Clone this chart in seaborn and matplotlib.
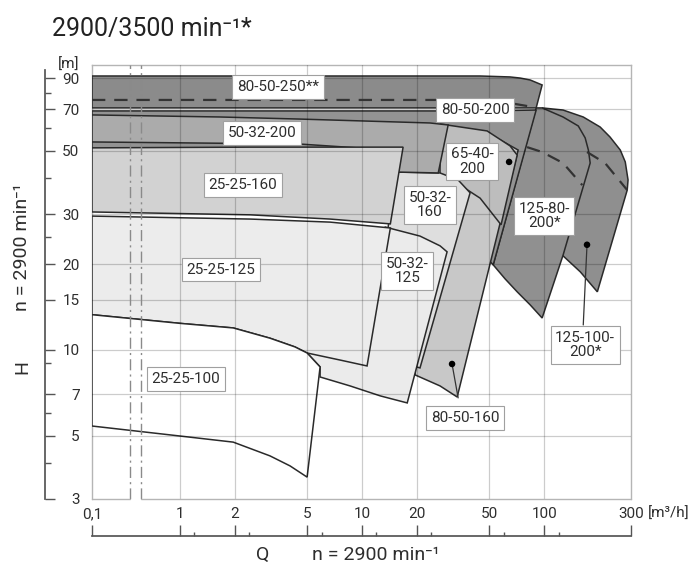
import numpy as np
import matplotlib
matplotlib.use("Agg")
import matplotlib.pyplot as plt
import seaborn as sns
from matplotlib.ticker import NullLocator

# ---------------- data (Q in m3/h, H in m) ----------------
q_ticks = [0.1, 1, 2, 5, 10, 20, 50, 100, 300]
q_tick_labels = ["0,1", "1", "2", "5", "10", "20", "50", "100", "300"]
h_ticks = [3, 5, 7, 10, 15, 20, 30, 50, 70, 90]
h_tick_labels = ["3", "5", "7", "10", "15", "20", "30", "50", "70", "90"]
q_grid = [1, 2, 5, 10, 20, 50, 100]
h_grid = [5, 7, 10, 15, 20, 30, 50, 70, 90]
q_break = [0.27, 0.36]
q_minor_3500 = [1.2, 2.4, 6, 12, 24, 60, 120]
h_minor = [4, 6, 9, 25, 40, 60, 80]

# pump envelopes (outline of the operating range), drawn back to front
Q_125_100_200 = [97.5, 127, 164, 203, 230, 262, 279, 289, 286, 196, 158, 127, 108, 108]
H_125_100_200 = [70.7, 69.5, 65.7, 60.6, 55.9, 50.3, 45.7, 39.5, 36.4, 16.0, 18.8, 21.4, 26.4, 64.1]

Q_125_80_200 = [90.4, 97.5, 127, 154, 168, 175, 179, 127, 97.5, 83.8, 71.1, 61.1, 52.5]
H_125_80_200 = [70.7, 70.7, 65.7, 61.1, 55.5, 50.3, 45.3, 21.5, 12.95, 14.4, 16.0, 17.75, 19.9]

Q_80_50_200 = [0.1, 44.5, 90.4, 52.5, 39.2, 26.8, 4.56, 0.1]
H_80_50_200 = [69.0, 69.0, 69.5, 19.9, 24.3, 33.6, 39.5, 42.8]

Q_80_50_160 = [23.6, 57.3, 72.0, 33.3, 26.8, 19.6, 18.4]
H_80_50_160 = [50.3, 54.6, 50.3, 6.84, 7.48, 8.17, 15.0]

Q_65_40_200 = [26.8, 48.6, 65.0, 71.1, 58.0, 44.5, 34.5, 26.8]
H_65_40_200 = [62.1, 58.7, 52.0, 48.3, 27.5, 34.1, 37.9, 40.1]

Q_50_32_160 = [15.2, 26.8, 33.7, 39.2, 20.8, 16.2, 13.4, 13.4]
H_50_32_160 = [42.1, 41.8, 39.5, 35.6, 8.65, 9.07, 9.53, 22.4]

Q_50_32_125 = [13.4, 20.8, 26.8, 29.3, 17.7, 12.6, 8.59, 5.88, 5.88, 4.99, 6.67]
H_50_32_125 = [27.0, 25.1, 23.2, 22.1, 6.52, 6.9, 7.48, 8.04, 8.72, 9.76, 15.0]

Q_80_50_250 = [0.1, 44.5, 65.0, 73.8, 83.8, 97.5, 90.4, 4.56, 0.1]
H_80_50_250 = [91.5, 91.5, 90.8, 90.0, 88.6, 85.1, 70.7, 70.7, 70.7]

Q_50_32_200 = [0.1, 1.66, 4.56, 23.6, 29.7, 26.2, 15.8, 14.3, 4.56, 0.1]
H_50_32_200 = [66.8, 65.7, 64.6, 62.6, 61.6, 41.8, 42.1, 50.3, 52.8, 53.7]

Q_25_25_160 = [0.1, 2.43, 16.8, 14.3, 6.67, 2.43, 0.1]
H_25_25_160 = [51.2, 51.5, 51.5, 27.7, 28.8, 29.8, 30.5]

Q_25_25_125 = [0.1, 2.43, 6.67, 14.3, 10.65, 7.57, 4.99, 4.28, 3.12, 1.96, 1.0, 0.1]
H_25_25_125 = [29.5, 28.8, 28.1, 26.8, 8.79, 9.22, 9.76, 10.25, 11.0, 11.95, 12.4, 13.3]

Q_25_25_100 = [0.1, 1.0, 1.96, 3.12, 4.28, 4.99, 5.88, 4.99, 4.02, 3.12, 1.96, 1.0, 0.1]
H_25_25_100 = [13.3, 12.4, 11.95, 11.0, 10.25, 9.76, 8.72, 3.58, 3.92, 4.25, 4.75, 4.99, 5.41]

# dashed (3500 1/min) curves
Q_dash_250 = [0.1, 44.5, 69.3, 87.0]
H_dash_250 = [75.4, 75.4, 73.0, 71.2]
Q_dash_125_80 = [80.6, 97.5, 127, 162]
H_dash_125_80 = [51.5, 49.5, 45.3, 37.9]
Q_dash_125_100 = [172, 216, 286]
H_dash_125_100 = [49.5, 45.3, 36.4]

# labels
label_text = ["80-50-250**", "50-32-200", "25-25-160", "25-25-125", "25-25-100",
              "80-50-200", "65-40-\n200", "50-32-\n160", "50-32-\n125",
              "125-80-\n200*", "125-100-\n200*", "80-50-160"]
label_q = [3.45, 2.82, 2.22, 1.68, 1.08, 41.8, 40.2, 23.6, 17.7, 100, 168, 36.8]
label_h = [83.7, 57.7, 37.9, 19.1, 7.91, 69.5, 45.9, 32.3, 18.9, 29.5, 10.4, 5.77]

dot_q = [31.2, 64.2, 172]
dot_h = [8.93, 45.7, 23.4]
pointer_80_50_160_q = [31.2, 33.7]
pointer_80_50_160_h = [8.93, 6.79]
pointer_125_100_q = [172, 164]
pointer_125_100_h = [23.4, 12.24]

# ---------------- style ----------------
sns.set_theme(style="white")
plt.rcParams["font.family"] = ["Roboto", "DejaVu Sans"]
TXT = "#2e2e2e"

envelopes = [
    (Q_125_100_200, H_125_100_200, "#8f8f8f"),
    (Q_125_80_200, H_125_80_200, "#909090"),
    (Q_80_50_200, H_80_50_200, "#939393"),
    (Q_80_50_160, H_80_50_160, "#c8c8c8"),
    (Q_65_40_200, H_65_40_200, "#bdbdbd"),
    (Q_50_32_160, H_50_32_160, "#dedede"),
    (Q_50_32_125, H_50_32_125, "#ebebeb"),
    (Q_80_50_250, H_80_50_250, "#8b8b8b"),
    (Q_50_32_200, H_50_32_200, "#ababab"),
    (Q_25_25_160, H_25_25_160, "#d2d2d2"),
    (Q_25_25_125, H_25_25_125, "#ececec"),
    (Q_25_25_100, H_25_25_100, "#ffffff"),
]

K = 0.4835  # compression of the 0,1..1 decade (axis break)


def fwd(q):
    q = np.asarray(q, dtype=float)
    lq = np.log10(np.clip(q, 1e-9, None))
    return np.where(lq < 0, lq * K, lq)


def inv(v):
    v = np.asarray(v, dtype=float)
    return np.where(v < 0, 10 ** (v / K), 10 ** v)


W, Hpx = 699, 569
fig = plt.figure(figsize=(W / 100, Hpx / 100), dpi=100)
L, R, T, B = 92, 631, 65, 499
ax = fig.add_axes([L / W, 1 - B / Hpx, (R - L) / W, (B - T) / Hpx])
ax.set_xscale("function", functions=(fwd, inv))
ax.set_yscale("log")
ax.set_xlim(0.1, 300)
ax.set_ylim(3, 100)

for i, (qq, hh, c) in enumerate(envelopes):
    ax.fill(qq, hh, facecolor=c, edgecolor="#2a2a2a", linewidth=1.1, zorder=2 + i)

# grid overlay
for q in q_grid:
    ax.axvline(q, color="black", alpha=0.2, lw=0.9, zorder=20)
for h in h_grid:
    ax.axhline(h, color="black", alpha=0.2, lw=0.9, zorder=20)
for q in q_break:
    ax.axvline(q, color="#8a8a8a", lw=1.0, ls=(0, (8, 3, 1.5, 3)), zorder=21)

# dashed curves
for qq, hh in [(Q_dash_250, H_dash_250), (Q_dash_125_80, H_dash_125_80),
               (Q_dash_125_100, H_dash_125_100)]:
    sns.lineplot(x=qq, y=hh, ax=ax, sort=False, estimator=None, color="#333333",
                 lw=1.6, dashes=False, zorder=22).lines[-1].set_dashes([6, 4])

# pointers and dots
ax.plot(pointer_80_50_160_q, pointer_80_50_160_h, color="#333333", lw=0.9, zorder=23)
ax.plot(pointer_125_100_q, pointer_125_100_h, color="#333333", lw=0.9, zorder=23)
sns.scatterplot(x=dot_q, y=dot_h, ax=ax, color="black", s=22, edgecolor="none",
                zorder=31, legend=False)

for t, q, h in zip(label_text, label_q, label_h):
    ax.text(q, h, t, ha="center", va="center", fontsize=11, color=TXT,
            linespacing=1.05, zorder=30,
            bbox=dict(boxstyle="square,pad=0.3", fc="white", ec="#a0a0a0", lw=0.8))

# frame
for s in ["left", "right", "top"]:
    ax.spines[s].set_color("#b5b5b5")
    ax.spines[s].set_linewidth(1.0)
ax.spines["bottom"].set_visible(False)
ax.plot([0.1, q_break[0]], [3, 3], color="#b5b5b5", lw=1.0, clip_on=False, zorder=25)
ax.plot([q_break[1], 300], [3, 3], color="#b5b5b5", lw=1.0, clip_on=False, zorder=25)

ax.set_xticks(q_ticks)
ax.set_xticklabels(q_tick_labels)
ax.set_yticks(h_ticks)
ax.set_yticklabels(h_tick_labels)
ax.xaxis.set_minor_locator(NullLocator())
ax.yaxis.set_minor_locator(NullLocator())
ax.tick_params(axis="x", length=0, pad=6, labelsize=11, labelcolor=TXT)
ax.tick_params(axis="y", length=0, pad=9, labelsize=11, labelcolor=TXT)
ax.grid(False)
ax.annotate("[m]", xy=(0, 1), xycoords="axes fraction", xytext=(-9, 0),
            textcoords="offset points", ha="right", va="center", fontsize=11, color=TXT)
ax.annotate("[m³/h]", xy=(1, 0), xycoords="axes fraction", xytext=(12, -10.5),
            textcoords="offset points", ha="left", va="center", fontsize=11, color=TXT)

# secondary H scale line (left)
axh = fig.add_axes([45 / W, 1 - B / Hpx, 0.0005, (B - T) / Hpx])
axh.set_yscale("log")
axh.set_ylim(3, 100)
axh.patch.set_alpha(0)
for s in ["right", "top", "bottom"]:
    axh.spines[s].set_visible(False)
axh.spines["left"].set_color("#555555")
axh.spines["left"].set_bounds(3, 96)
axh.set_xticks([])
axh.set_yticks(h_ticks)
axh.set_yticklabels([])
axh.yaxis.set_minor_locator(NullLocator())
axh.set_yticks(h_minor, minor=True)
axh.tick_params(axis="y", which="major", left=True, right=False, direction="in",
                length=7, width=1, color="#555555", labelleft=False)
axh.tick_params(axis="y", which="minor", left=True, right=False, direction="in",
                length=4, width=1, color="#555555", labelleft=False)

# secondary Q scale line (bottom)
qline_y = 536
axq = fig.add_axes([L / W, 1 - qline_y / Hpx, (R - L) / W, 0.0005])
axq.set_xscale("function", functions=(fwd, inv))
axq.set_xlim(0.1, 300)
axq.patch.set_alpha(0)
for s in ["left", "right", "top"]:
    axq.spines[s].set_visible(False)
axq.spines["bottom"].set_color("#555555")
axq.set_yticks([])
axq.set_xticks(q_ticks)
axq.set_xticklabels([])
axq.xaxis.set_minor_locator(NullLocator())
axq.set_xticks(q_minor_3500, minor=True)
axq.tick_params(axis="x", which="major", bottom=True, top=False, direction="in",
                length=8, width=1, color="#555555", labelbottom=False)
axq.tick_params(axis="x", which="minor", bottom=True, top=False, direction="in",
                length=3, width=1, color="#555555", labelbottom=False)

# titles / axis captions
fig.text(52 / W, 1 - 29 / Hpx, "2900/3500 min⁻¹*", fontsize=18, color="#222222",
         ha="left", va="center")
fig.text(22 / W, 1 - 367 / Hpx, "H", rotation=90, fontsize=14, color=TXT,
         ha="center", va="center")
fig.text(22 / W, 1 - 247 / Hpx, "n = 2900 min⁻¹", rotation=90, fontsize=14, color=TXT,
         ha="center", va="center")
fig.text(263 / W, 1 - 555 / Hpx, "Q", fontsize=14, color=TXT, ha="center", va="center")
fig.text(376 / W, 1 - 555 / Hpx, "n = 2900 min⁻¹", fontsize=14, color=TXT,
         ha="center", va="center")

fig.savefig("out.png", dpi=100)
